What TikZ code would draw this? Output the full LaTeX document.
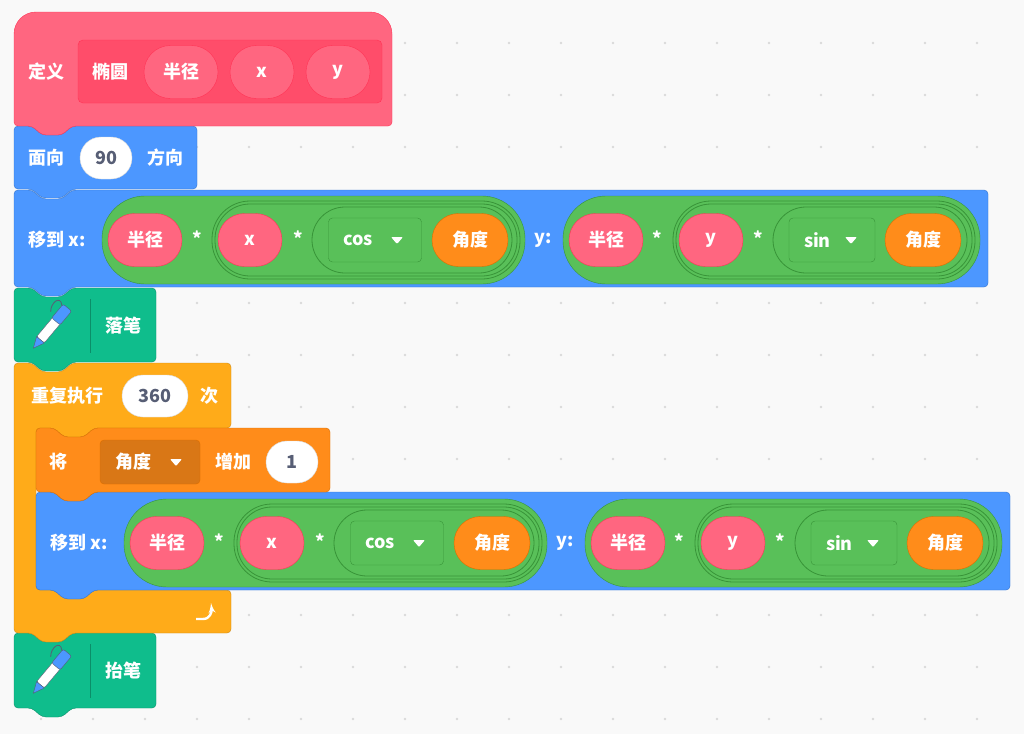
\documentclass[tikz,border=0pt]{standalone}
\usepackage{fontspec}
\setmainfont{Noto Sans CJK SC}
\usetikzlibrary{shapes.misc,positioning,arrows}
\definecolor{bg}{HTML}{F9F9F9}
\definecolor{dotc}{HTML}{D9D9D9}
\definecolor{pinkf}{HTML}{FF6680}
\definecolor{pinkd}{HTML}{FF3355}
\definecolor{pinki}{HTML}{FF4D6A}
\definecolor{bluef}{HTML}{4C97FF}
\definecolor{blued}{HTML}{3373CC}
\definecolor{greenf}{HTML}{59C059}
\definecolor{greend}{HTML}{389438}
\definecolor{penf}{HTML}{0FBD8C}
\definecolor{pend}{HTML}{0B8E69}
\definecolor{yelf}{HTML}{FFAB19}
\definecolor{yeld}{HTML}{CF8B17}
\definecolor{orf}{HTML}{FF8C1A}
\definecolor{ord}{HTML}{DB6E00}
\definecolor{greyt}{HTML}{575E75}
% stack block with notch on top and tab below
\newcommand{\stackblock}[6]{%
  \draw[rounded corners=4, fill=#5, draw=#6] (#1,#2) -- ({#1+18},#2) -- ({#1+28},{#2+9}) -- ({#1+48},{#2+9}) -- ({#1+58},#2) -- (#3,#2) -- (#3,#4) -- ({#1+58},#4) -- ({#1+48},{#4+9}) -- ({#1+28},{#4+9}) -- ({#1+18},#4) -- (#1,#4) -- cycle;}
% small dropdown triangle
\newcommand{\droptri}[2]{\fill[white, rounded corners=1] ({#1-6},{#2-3}) -- ({#1+6},{#2-3}) -- (#1,{#2+4}) -- cycle;}
\begin{document}
\begin{tikzpicture}[x=1pt,y=-1pt,
    lbl/.style={text=white, font=\fontsize{18}{20}\selectfont\bfseries, inner sep=0},
    pill/.style={rounded rectangle, draw=pinkd, fill=pinkf, minimum height=53, minimum width=74, inner sep=0, lbl},
    opill/.style={pill, draw=ord, fill=orf, minimum width=76},
    wpill/.style={rounded rectangle, draw=black!15, fill=white, minimum height=42, inner sep=0, text=greyt, font=\fontsize{18}{20}\selectfont\bfseries},
    drop/.style={draw=greend, fill=greenf, rounded corners=4, minimum height=44, inner sep=0, lbl, text width=#1, align=left},
    ring/.style={draw=greend, line width=0.8pt, rounded corners=#1}
  ]
  \useasboundingbox (0,0) rectangle (1024,734);
  \fill[bg] (0,0) rectangle (1024,734);
  \foreach \i in {0,...,19} \foreach \j in {0,...,13}
    \fill[dotc] ({41+52*\i},{43+52*\j}) circle (1.3);

  % blocks from bottom to top
  \stackblock{14}{633}{156}{708}{penf}{pend}
  \draw[rounded corners=4, fill=yelf, draw=yeld] (14,363) -- (32,363) -- (42,372) -- (62,372) -- (72,363) -- (231,363) -- (231,428) -- (94,428) -- (84,437) -- (64,437) -- (54,428) -- (36,428) -- (36,590) -- (231,590) -- (231,633) -- (72,633) -- (62,642) -- (42,642) -- (32,633) -- (14,633) -- cycle;
  \stackblock{36}{492}{1010}{590}{bluef}{blued}
  \stackblock{36}{428}{330}{492}{orf}{ord}
  \stackblock{14}{288}{156}{362}{penf}{pend}
  \stackblock{14}{190}{988}{287}{bluef}{blued}
  \stackblock{14}{126}{197}{189}{bluef}{blued}
  \draw[fill=pinkf, draw=pinkd, rounded corners=4] (14,126) -- (14,40) [rounded corners=22] -- (14,12) -- (392,12) [rounded corners=4] -- (392,126) -- (72,126) -- (62,135) -- (42,135) -- (32,126) -- cycle;

  % define
  \node[lbl] (def) at (46,72) {定义};
  \draw[fill=pinki, draw=pinkd, rounded corners=5] (78,40) rectangle (382,103);
  \node[lbl] (ell) at (110,72) {椭圆};
  \node[pill] (ra) at (181,72) {半径};
  \node[pill, minimum width=64] (xa) at (262,72) {x};
  \node[pill, minimum width=64] (ya) at (338,72) {y};

  % turn
  \node[lbl] (face) at (46,158) {面向};
  \node[wpill, minimum width=52] (deg) at (106,158) {90};
  \node[lbl] (dir) at (165,158) {方向};

  % go to, twice
  \foreach \dx/\dy/\nm in {0/0/a, 22/303/b} {
    \begin{scope}[shift={(\dx,\dy)}]
      \node[lbl] (go\nm) at (57,240) {移到 x:};
      \node[lbl] (gy\nm) at (543,240) {y:};
      \foreach \ox in {0, 461} {
        \begin{scope}[shift={(\ox,0)}]
          \draw[fill=greenf, draw=greend, rounded corners=43] (102,196) rectangle ({525-\ox/461*6},284);
          \draw[ring=38] (212,201) rectangle ({520-\ox/461*6},279);
          \draw[ring=35] (215,204) rectangle ({517-\ox/461*6},276);
          \draw[ring=33] (312,207) rectangle ({512-\ox/461*6},273);
        \end{scope}
      }
      \node[pill] (r1\nm) at (145,240) {半径};
      \node[lbl] (s1\nm) at (197,238) {*};
      \node[pill, minimum width=64] (x1\nm) at (250,240) {x};
      \node[lbl] (s2\nm) at (298,238) {*};
      \node[drop=93] (c1\nm) at (375,240) {\hspace*{15pt}cos};
      \droptri{397}{240}
      \node[opill] (a1\nm) at (470,240) {角度};
      \node[pill] (r2\nm) at (606,240) {半径};
      \node[lbl] (s3\nm) at (657,238) {*};
      \node[pill, minimum width=64] (y2\nm) at (711,240) {y};
      \node[lbl] (s4\nm) at (758,238) {*};
      \node[drop=86] (c2\nm) at (832,240) {\hspace*{15pt}sin};
      \droptri{851}{240}
      \node[opill] (a2\nm) at (923,240) {角度};
    \end{scope}
  }

  % pens
  \foreach \py/\txt/\nm in {326/落笔/down, 671/抬笔/up} {
    \draw[pend, line width=0.8pt] (90,{\py-27}) -- (90,{\py+27});
    \begin{scope}[shift={(52,\py)}, rotate=50]
      \draw[greyt, fill=white, rounded corners=2] (-18,-5) rectangle (14,5);
      \draw[greyt, fill=bluef, rounded corners=2] (6,-5.5) rectangle (24,5.5);
      \draw[greyt, fill=bluef] (-18,-5) -- (-29,0) -- (-18,5) -- cycle;
      \draw[greyt, line width=0.8pt] (22,-5.5) .. controls (30,-14) and (16,-16) .. (10,-10);
    \end{scope}
    \node[lbl] (pen\nm) at (123,\py) {\txt};
  }

  % repeat
  \node[lbl] (rep) at (67,396) {重复执行};
  \node[wpill, minimum width=66] (cnt) at (155,396) {360};
  \node[lbl] (tim) at (209,396) {次};
  \draw[white, line width=2.4pt, -latex'] (196,619) -- (203,619) .. controls (210,619) and (212,612) .. (211,603);

  % change
  \node[lbl] (chg) at (58,462) {将};
  \node[draw=ord, fill=orf!85!black, rounded corners=4, minimum height=44, inner sep=0, lbl, text width=100, align=left] (var) at (150,462) {\hspace*{15pt}角度};
  \droptri{176}{462}
  \node[lbl] (inc) at (233,462) {增加};
  \node[wpill, minimum width=52] (one) at (292,462) {1};
\end{tikzpicture}
\end{document}
